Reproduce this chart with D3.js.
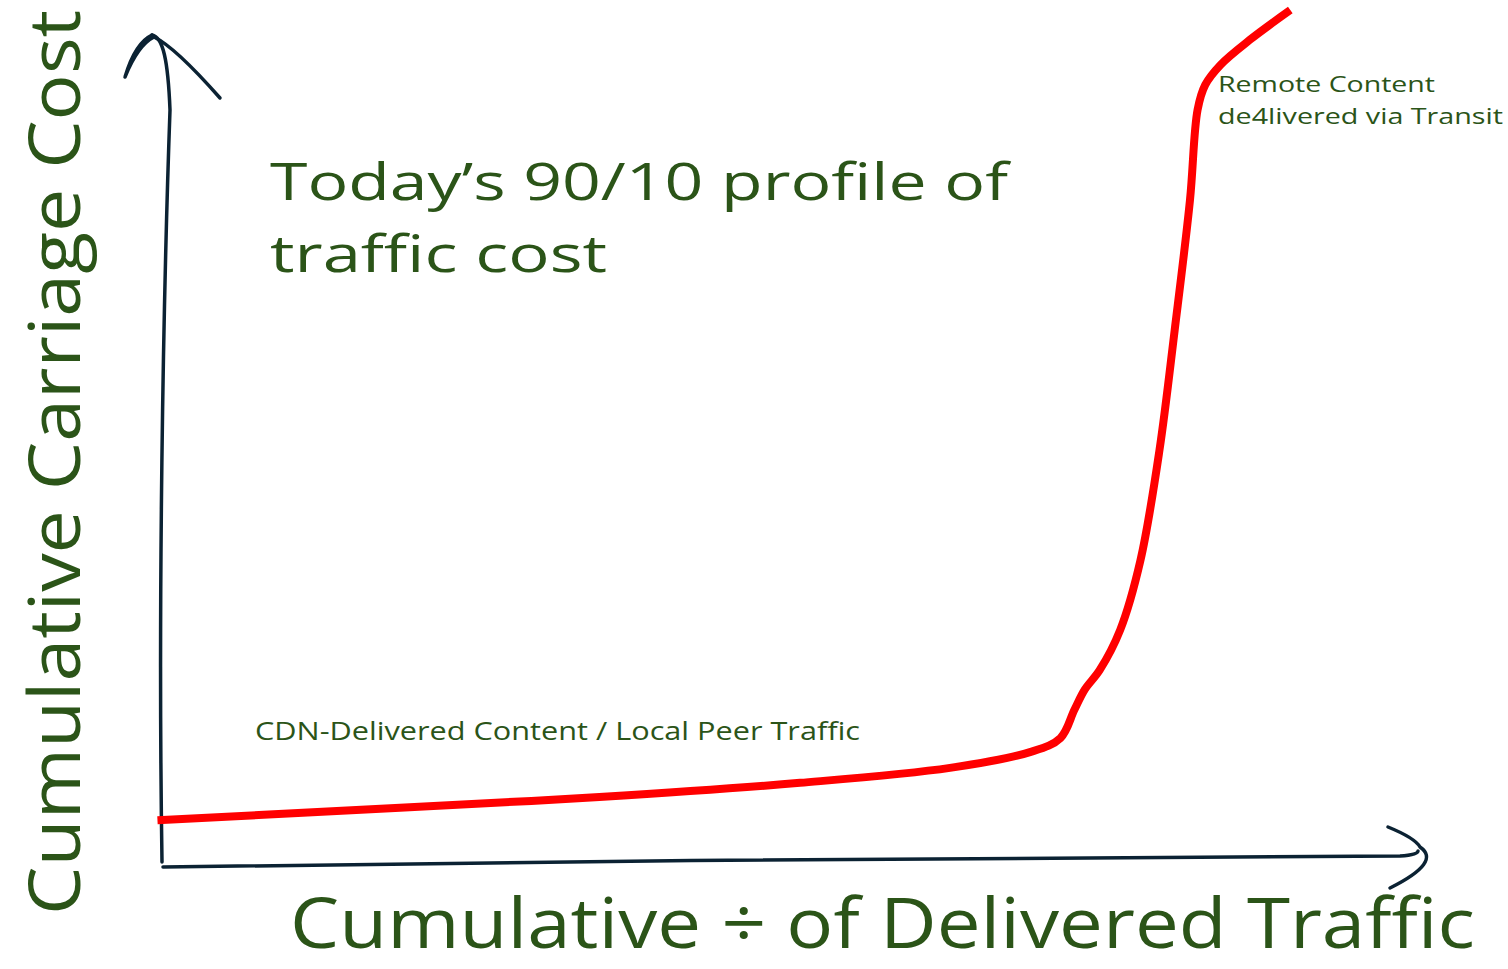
<!DOCTYPE html>
<html><head><meta charset="utf-8">
<script src="https://cdn.jsdelivr.net/npm/d3@7"></script>
<style>
html,body{margin:0;padding:0;background:#fff;}
svg{display:block;}
text{font-family:"Open Sans","DejaVu Sans",sans-serif;fill:#2b5418;}
</style></head>
<body>
<svg id="chart" width="1508" height="969"></svg>
<script>
// Data: cumulative % of delivered traffic vs cumulative carriage cost (relative units)
const trafficPct = [-0.2, 18.9, 34.6, 50.4, 62.2, 68.5, 70.9, 72.0, 72.8, 74.0, 75.6, 77.2, 78.7, 79.9, 81.1, 81.7, 82.3, 83.5, 85.8, 89.0];
const carriageCost = [5.4, 6.9, 8.2, 9.9, 11.7, 13.6, 15.3, 18.7, 21.1, 23.5, 28.3, 36.7, 50.0, 64.5, 80.1, 91.0, 94.0, 96.4, 99.4, 103.0];
const titleLines = ["Today\u2019s 90/10 profile of", "traffic cost"];
const xLabel = "Cumulative \u00F7 of Delivered Traffic";
const yLabel = "Cumulative Carriage Cost";
const lowLabel = "CDN-Delivered Content / Local Peer Traffic";
const highLabelLines = ["Remote Content", "de4livered via Transit"];

const svg = d3.select("#chart");
const x = d3.scaleLinear().domain([0, 100]).range([160, 1430]);
const y = d3.scaleLinear().domain([0, 100]).range([865, 35]);

const axisColor = "#0b2233";
const [x0, x1] = x.range();
const [y0, y1] = y.range();

// Hand-drawn y axis
svg.append("path")
  .attr("d", `M${x0+2},${y0-3} C${x0-2},${y0-260} ${x0+3},${y0-560} ${x0+10},${y1+75} C${x0+8},${y1+25} ${x0+3},${y1+2} ${x0-8},${y1}`)
  .attr("fill", "none").attr("stroke", axisColor).attr("stroke-width", 3.5).attr("stroke-linecap", "round");
svg.append("path")
  .attr("d", `M${x0-8},${y1} Q${x0-25},${y1+8} ${x0-35},${y1+42} Q${x0-22},${y1+10} ${x0-6},${y1+2} Q${x0+15},${y1+12} ${x0+60},${y1+63}`)
  .attr("fill", "none").attr("stroke", axisColor).attr("stroke-width", 3.5).attr("stroke-linecap", "round").attr("stroke-linejoin", "round");

// Hand-drawn x axis
svg.append("path")
  .attr("d", `M${x0+3},${y0+2} C${x0+400},${y0-4} ${x1-400},${y0-8} ${x1-30},${y0-9} Q${x1-12},${y0-10} ${x1-12},${y0-14}`)
  .attr("fill", "none").attr("stroke", axisColor).attr("stroke-width", 3.5).attr("stroke-linecap", "round");
svg.append("path")
  .attr("d", `M${x1-42},${y0-38} Q${x1-15},${y0-27} ${x1-10},${y0-18} Q${x1+12},${y0-3} ${x1-40},${y0+23}`)
  .attr("fill", "none").attr("stroke", axisColor).attr("stroke-width", 3.5).attr("stroke-linecap", "round").attr("stroke-linejoin", "round");

// Curve
const pts = trafficPct.map((t, i) => [t, carriageCost[i]]);
svg.append("path")
  .datum(pts)
  .attr("d", d3.line().x(d => x(d[0])).y(d => y(d[1])).curve(d3.curveCatmullRom.alpha(0.5)))
  .attr("fill", "none").attr("stroke", "#ff0000").attr("stroke-width", 8).attr("stroke-linejoin", "round");

// Title
svg.append("text").attr("x", 270).attr("y", 200).attr("font-size", 52)
  .attr("textLength", 738).attr("lengthAdjust", "spacingAndGlyphs").text(titleLines[0]);
svg.append("text").attr("x", 270).attr("y", 272).attr("font-size", 52)
  .attr("textLength", 337).attr("lengthAdjust", "spacingAndGlyphs").text(titleLines[1]);

// Annotations
svg.append("text").attr("x", 255).attr("y", 740).attr("font-size", 26)
  .attr("textLength", 605).attr("lengthAdjust", "spacingAndGlyphs").text(lowLabel);
svg.append("text").attr("x", 1218).attr("y", 92).attr("font-size", 22)
  .attr("textLength", 217).attr("lengthAdjust", "spacingAndGlyphs").text(highLabelLines[0]);
svg.append("text").attr("x", 1218).attr("y", 124).attr("font-size", 22)
  .attr("textLength", 285).attr("lengthAdjust", "spacingAndGlyphs").text(highLabelLines[1]);

// Axis labels
svg.append("text").attr("x", 290).attr("y", 948).attr("font-size", 70)
  .attr("textLength", 1185).attr("lengthAdjust", "spacingAndGlyphs").text(xLabel);
svg.append("text").attr("transform", "translate(80,915) rotate(-90)").attr("font-size", 72)
  .attr("textLength", 905).attr("lengthAdjust", "spacingAndGlyphs").text(yLabel);
</script>
</body></html>
